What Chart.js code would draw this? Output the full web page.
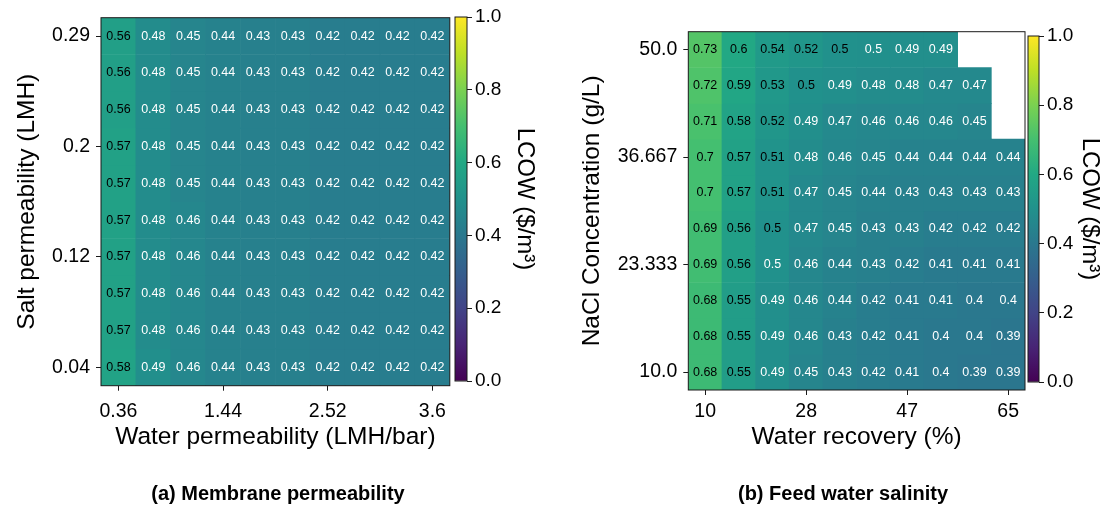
<!DOCTYPE html>
<html>
<head>
<meta charset="utf-8">
<script src="https://cdn.jsdelivr.net/npm/chart.js@4.4.1/dist/chart.umd.min.js"></script>
<style>
  html, body { margin: 0; padding: 0; background: #fff; }
  body { width: 1117px; height: 510px; position: relative; overflow: hidden; }
  canvas { position: absolute; top: 0; }
</style>
</head>
<body>
<canvas id="heatA" width="455" height="510" style="left:0px"></canvas>
<canvas id="cbarA" width="101" height="510" style="left:454px"></canvas>
<canvas id="heatB" width="467" height="510" style="left:560px"></canvas>
<canvas id="cbarB" width="91" height="510" style="left:1026px"></canvas>
<script>
// (a) membrane permeability: rows top -> bottom (salt perm 0.29 -> 0.04)
const lcowPermeability = [
  [0.56, 0.48, 0.45, 0.44, 0.43, 0.43, 0.42, 0.42, 0.42, 0.42],
  [0.56, 0.48, 0.45, 0.44, 0.43, 0.43, 0.42, 0.42, 0.42, 0.42],
  [0.56, 0.48, 0.45, 0.44, 0.43, 0.43, 0.42, 0.42, 0.42, 0.42],
  [0.57, 0.48, 0.45, 0.44, 0.43, 0.43, 0.42, 0.42, 0.42, 0.42],
  [0.57, 0.48, 0.45, 0.44, 0.43, 0.43, 0.42, 0.42, 0.42, 0.42],
  [0.57, 0.48, 0.46, 0.44, 0.43, 0.43, 0.42, 0.42, 0.42, 0.42],
  [0.57, 0.48, 0.46, 0.44, 0.43, 0.43, 0.42, 0.42, 0.42, 0.42],
  [0.57, 0.48, 0.46, 0.44, 0.43, 0.43, 0.42, 0.42, 0.42, 0.42],
  [0.57, 0.48, 0.46, 0.44, 0.43, 0.43, 0.42, 0.42, 0.42, 0.42],
  [0.58, 0.49, 0.46, 0.44, 0.43, 0.43, 0.42, 0.42, 0.42, 0.42],
];
const waterPermTicks = ['0.36', '1.44', '2.52', '3.6'];
const saltPermTicks = ['0.29', '0.2', '0.12', '0.04'];

// (b) feed water salinity: rows top -> bottom (NaCl 50 -> 10 g/L), null = no result
const lcowSalinity = [
  [0.73, 0.6, 0.54, 0.52, 0.502, 0.497, 0.49, 0.49, null, null],
  [0.72, 0.59, 0.53, 0.501, 0.49, 0.48, 0.48, 0.47, 0.47, null],
  [0.71, 0.58, 0.52, 0.49, 0.47, 0.46, 0.46, 0.46, 0.45, null],
  [0.7, 0.57, 0.51, 0.48, 0.46, 0.45, 0.44, 0.44, 0.44, 0.44],
  [0.7, 0.57, 0.51, 0.47, 0.45, 0.44, 0.43, 0.43, 0.43, 0.43],
  [0.69, 0.56, 0.502, 0.47, 0.45, 0.43, 0.43, 0.42, 0.42, 0.42],
  [0.69, 0.56, 0.498, 0.46, 0.44, 0.43, 0.42, 0.41, 0.41, 0.41],
  [0.68, 0.55, 0.49, 0.46, 0.44, 0.42, 0.41, 0.41, 0.4, 0.4],
  [0.68, 0.55, 0.49, 0.46, 0.43, 0.42, 0.41, 0.4, 0.4, 0.39],
  [0.68, 0.55, 0.49, 0.45, 0.43, 0.42, 0.41, 0.4, 0.39, 0.39],
];
const recoveryTicks = ['10', '28', '47', '65'];
const concTicks = ['50.0', '36.667', '23.333', '10.0'];

// tick positions (cell index) shared by both panels
const tickCells = [0, 3, 6, 9];
const cbarTicks = [0, 0.2, 0.4, 0.6, 0.8, 1.0];
const cbarTickLabels = ['0.0', '0.2', '0.4', '0.6', '0.8', '1.0'];

const FONT = "'Liberation Sans', Arial, sans-serif";
Chart.defaults.font.family = FONT;
Chart.defaults.color = '#000';

const viridisStops = ['#440154', '#482475', '#414487', '#355f8d', '#2a788e', '#21918c',
  '#22a884', '#44bf70', '#7ad151', '#bddf26', '#fde725'];

function hexRgb(h) {
  return [1, 3, 5].map(i => parseInt(h.slice(i, i + 2), 16));
}

function viridis(v) {
  const t = Math.max(0, Math.min(1, v)) * (viridisStops.length - 1);
  const i = Math.min(Math.floor(t), viridisStops.length - 2);
  const f = t - i;
  const a = hexRgb(viridisStops[i]), b = hexRgb(viridisStops[i + 1]);
  const c = a.map((x, k) => Math.round(x + (b[k] - x) * f));
  return `rgb(${c[0]},${c[1]},${c[2]})`;
}

const frameColor = '#1a1a1a';

const framePlugin = {
  id: 'frame',
  afterDraw(chart) {
    const { ctx, chartArea: a } = chart;
    ctx.save();
    ctx.strokeStyle = frameColor;
    ctx.lineWidth = 1;
    ctx.strokeRect(a.left, a.top, a.right - a.left, a.bottom - a.top);
    ctx.restore();
  }
};

const cellTextPlugin = {
  id: 'cellText',
  afterDatasetsDraw(chart) {
    const ctx = chart.ctx;
    ctx.save();
    ctx.font = `12.5px ${FONT}`;
    ctx.textAlign = 'center';
    ctx.textBaseline = 'middle';
    chart.data.datasets.forEach((ds, d) => {
      chart.getDatasetMeta(d).data.forEach((bar, i) => {
        const v = ds.values[i];
        if (v == null) return;
        ctx.fillStyle = v >= 0.5 ? '#000' : '#fff';
        ctx.fillText(String(Number(v.toFixed(2))), bar.x, (bar.y + bar.base) / 2);
      });
    });
    ctx.restore();
  }
};

// bold panel caption under the axes
const captionPlugin = {
  id: 'caption',
  afterDraw(chart, args, opts) {
    const ctx = chart.ctx;
    ctx.save();
    ctx.font = `bold 20px ${FONT}`;
    ctx.fillStyle = '#000';
    ctx.textAlign = 'center';
    ctx.textBaseline = 'middle';
    ctx.fillText(opts.text, opts.x, opts.y);
    ctx.restore();
  }
};

function heatmap(id, rows, xTicks, yTicks, xTitle, yTitle, caption, g) {
  const nRows = rows.length;
  const nCols = rows[0].length;
  const datasets = rows.map((row, r) => ({
    data: row.map(v => (v == null ? null : [nRows - 1 - r, nRows - r])),
    values: row,
    backgroundColor: row.map(v => (v == null ? 'rgba(0,0,0,0)' : viridis(v))),
    borderWidth: 0,
    barPercentage: 1,
    categoryPercentage: 1,
    grouped: false,
  }));
  return new Chart(document.getElementById(id), {
    type: 'bar',
    data: { labels: Array.from({ length: nCols }, (_, i) => i), datasets },
    options: {
      responsive: false,
      animation: false,
      layout: { padding: { top: g.top, right: g.right, left: 0, bottom: 0 } },
      plugins: {
        legend: { display: false },
        tooltip: { enabled: false },
        caption: { text: caption, x: g.capX, y: 494 }
      },
      scales: {
        x: {
          afterBuildTicks: s => { s.ticks = tickCells.map(c => ({ value: c })); },
          afterFit: s => { s.height = 510 - g.bottom; },
          ticks: {
            autoSkip: false, maxRotation: 0, padding: g.xPad,
            font: { size: 19.5 }, color: '#000',
            callback: (v, i) => xTicks[i]
          },
          grid: { drawOnChartArea: false, tickLength: 5, tickColor: frameColor, offset: false },
          border: { display: false },
          title: { display: true, text: xTitle, font: { size: 24.5 }, color: '#000', padding: { top: 0, bottom: 58.3 } }
        },
        y: {
          min: 0, max: nRows,
          afterBuildTicks: s => { s.ticks = tickCells.map(c => ({ value: nRows - 0.5 - c })); },
          afterFit: s => { s.width = g.yWidth; },
          ticks: {
            autoSkip: false, padding: 6, font: { size: 19.5 }, color: '#000',
            callback: (v, i) => yTicks[i]
          },
          grid: { drawOnChartArea: false, tickLength: 5, tickColor: frameColor },
          border: { display: false },
          title: { display: true, text: yTitle, font: { size: 24.5 }, color: '#000', padding: { top: g.yTitlePad, bottom: 0 } }
        }
      }
    },
    plugins: [cellTextPlugin, framePlugin, captionPlugin]
  });
}

function colorbar(id, g) {
  return new Chart(document.getElementById(id), {
    type: 'bar',
    data: {
      labels: [''],
      datasets: [{
        data: [[0, 1]],
        borderWidth: 0,
        barPercentage: 1,
        categoryPercentage: 1,
        backgroundColor: c => {
          const a = c.chart.chartArea;
          if (!a) return viridis(0.5);
          const grad = c.chart.ctx.createLinearGradient(0, a.bottom, 0, a.top);
          viridisStops.forEach((col, i) => grad.addColorStop(i / (viridisStops.length - 1), col));
          return grad;
        }
      }]
    },
    options: {
      responsive: false,
      animation: false,
      layout: { padding: { top: g.top, bottom: 510 - g.bottom, left: g.left, right: 0 } },
      plugins: { legend: { display: false }, tooltip: { enabled: false } },
      scales: {
        x: { display: false },
        y: {
          position: 'right', min: 0, max: 1,
          afterBuildTicks: s => { s.ticks = cbarTicks.map(v => ({ value: v })); },
          afterFit: s => { s.width = g.yWidth; },
          ticks: { padding: 3, font: { size: 19 }, color: '#000', callback: (v, i) => cbarTickLabels[i] },
          grid: { drawOnChartArea: false, tickLength: 5, tickColor: frameColor },
          border: { display: false },
          title: { display: true, text: 'LCOW ($/m³)', font: { size: 24 }, color: '#000', padding: { top: g.titlePad, bottom: 0 } }
        }
      }
    },
    plugins: [framePlugin]
  });
}

heatmap('heatA', lcowPermeability, waterPermTicks, saltPermTicks,
  'Water permeability (LMH/bar)', 'Salt permeability (LMH)', '(a) Membrane permeability',
  { top: 12, bottom: 385.7, right: 1.7, yWidth: 101, xPad: 9, yTitlePad: 12.3, capX: 278 });
colorbar('cbarA', { top: 17, bottom: 381, left: 1, yWidth: 88, titlePad: 15.6 });

heatmap('heatB', lcowSalinity, recoveryTicks, concTicks,
  'Water recovery (%)', 'NaCl Concentration (g/L)', '(b) Feed water salinity',
  { top: 31.7, bottom: 390, right: 2, yWidth: 128.3, xPad: 5, yTitlePad: 17.3, capX: 843 - 560 });
colorbar('cbarB', { top: 36, bottom: 382, left: 2, yWidth: 78, titlePad: 12.6 });
</script>
</body>
</html>
